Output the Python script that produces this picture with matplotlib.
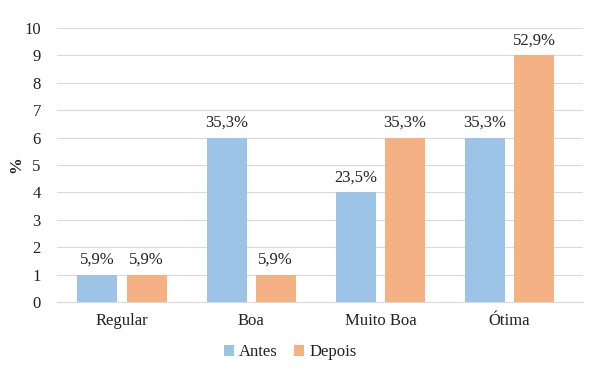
import matplotlib
matplotlib.use("Agg")
import matplotlib.pyplot as plt
import numpy as np

categories = ["Regular", "Boa", "Muito Boa", "Ótima"]
antes = [1, 6, 4, 6]
depois = [1, 1, 6, 9]
antes_labels = ["5,9%", "35,3%", "23,5%", "35,3%"]
depois_labels = ["5,9%", "5,9%", "35,3%", "52,9%"]
yticks = list(range(0, 11))

plt.rcParams['font.family'] = ['Liberation Serif', 'DejaVu Serif']

fig = plt.figure(figsize=(5.92, 3.81), dpi=100)
ax = fig.add_axes([0.097, 0.2073, 0.888, 0.7192])

x = np.arange(len(categories))
w = 0.31
off = 0.19
c_antes = "#9DC3E6"
c_depois = "#F4B183"
fs = 12
b1 = ax.bar(x - off, antes, w, color=c_antes, label="Antes", zorder=3)
b2 = ax.bar(x + off, depois, w, color=c_depois, label="Depois", zorder=3)

for rect, lab in zip(b1, antes_labels):
    ax.annotate(lab, (rect.get_x() + rect.get_width() / 2, rect.get_height()),
                xytext=(0, 5), textcoords="offset points", ha="center", va="bottom",
                fontsize=fs, color="#222222")
for rect, lab in zip(b2, depois_labels):
    ax.annotate(lab, (rect.get_x() + rect.get_width() / 2, rect.get_height()),
                xytext=(0, 5), textcoords="offset points", ha="center", va="bottom",
                fontsize=fs, color="#222222")

ax.set_ylim(0, 10)
ax.set_xlim(-0.5, 3.57)
ax.set_yticks(yticks)
ax.set_xticks(x)
ax.set_xticklabels(categories)
ax.tick_params(axis='both', length=0, labelsize=fs, colors="#222222")
ax.tick_params(axis='y', pad=12)
ax.tick_params(axis='x', pad=8)
ax.yaxis.grid(True, color="#D9D9D9", linewidth=0.8, zorder=0)
for s in ["top", "right", "left"]:
    ax.spines[s].set_visible(False)
ax.spines["bottom"].set_color("#D9D9D9")
ax.spines["bottom"].set_linewidth(0.8)

fig.text(0.027, 0.567, "%", rotation=90, ha="center", va="center",
         fontsize=fs, fontweight="bold", color="#222222")

leg = fig.legend(handles=[b1, b2], labels=["Antes", "Depois"], loc="center",
                 bbox_to_anchor=(0.49, 0.075), ncol=2, frameon=False,
                 fontsize=fs, handlelength=0.6, handleheight=0.6,
                 handletextpad=0.3, columnspacing=1.0)
for t in leg.get_texts():
    t.set_color("#222222")

fig.savefig("out.png", dpi=100)
